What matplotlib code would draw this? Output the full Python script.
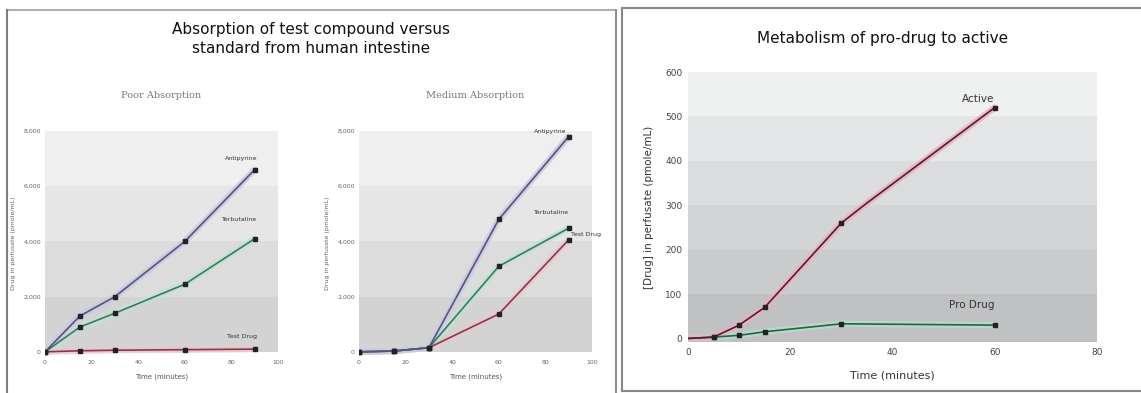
import matplotlib
matplotlib.use("Agg")
import matplotlib.pyplot as plt
from matplotlib.lines import Line2D

# absorption data (time in minutes)
abs_time = [0, 15, 30, 60, 90]
poor_antipyrine = [0, 1300, 2000, 4000, 6600]
poor_terbutaline = [0, 900, 1400, 2450, 4100]
poor_testdrug = [0, 40, 60, 80, 100]

med_time = [0, 15, 30, 60, 90]
med_antipyrine = [0, 30, 150, 4800, 7800]
med_terbutaline = [0, 30, 150, 3100, 4480]
med_testdrug = [0, 30, 150, 1370, 4060]

abs_xticks = [0, 20, 40, 60, 80, 100]
abs_yticks = [0, 2000, 4000, 6000, 8000]
abs_ylabels = ['0', '2,000', '4,000', '6,000', '8,000']

# metabolism data
met_time = [0, 5, 10, 15, 30, 35, 60]
active = [0, 3, 30, 70, 260, 305, 520]
active_marks = [1, 2, 3, 4, 6]
pro_time = [0, 5, 10, 15, 30, 60]
pro_drug = [0, 3, 7, 15, 33, 30]

met_xticks = [0, 20, 40, 60, 80]
met_yticks = [0, 100, 200, 300, 400, 500, 600]

W, H = 1141, 393
fig = plt.figure(figsize=(W / 100, H / 100), dpi=100)
fig.patch.set_facecolor('white')


def px_axes(x0, y0, x1, y1):
    # pixel box (top-left origin) -> figure axes
    return fig.add_axes([x0 / W, 1 - y1 / H, (x1 - x0) / W, (y1 - y0) / H])


def fline(x0, y0, x1, y1, c, lw):
    fig.add_artist(Line2D([x0 / W, x1 / W], [1 - y0 / H, 1 - y1 / H],
                          transform=fig.transFigure, color=c, lw=lw))


# panel borders
fline(7, 10, 616, 10, '#b0b0b0', 1.5)
fline(7, 10, 7, 393, '#808080', 1.5)
fline(616, 10, 616, 393, '#909090', 1.5)
fline(622, 8, 1141, 8, '#888888', 1.5)
fline(622, 8, 622, 391, '#888888', 1.5)
fline(622, 391, 1141, 391, '#888888', 1.5)

fig.text(311 / W, 1 - 39 / H, 'Absorption of test compound versus\nstandard from human intestine',
         ha='center', va='center', fontsize=11, linespacing=1.35, color='#111111')
fig.text(883 / W, 1 - 38 / H, 'Metabolism of pro-drug to active',
         ha='center', va='center', fontsize=11, color='#111111')


def glow(ax, x, y, dark, light, ms=2.2, marks=None):
    ax.plot(x, y, color=light, lw=4.5, alpha=0.85, solid_capstyle='round', zorder=3)
    ax.plot(x, y, color=dark, lw=1.2, zorder=4, marker='s', ms=ms,
            markevery=marks, mfc='#222222', mec='#222222')


def absorption(ax, title, ant, ter, tst, labels):
    bands = ['#d3d3d3', '#dcdcdc', '#e6e6e6', '#efefef']
    for i, c in enumerate(bands):
        ax.axhspan(abs_yticks[i], abs_yticks[i + 1], color=c, lw=0, zorder=0)
    glow(ax, abs_time, tst, '#8a3848', '#e8c8d0')
    glow(ax, abs_time, ter, '#3a7a60', '#c0e4d2')
    glow(ax, abs_time, ant, '#54547e', '#cacae2')
    ax.set_xlim(0, 100)
    ax.set_ylim(-150, 8000)
    ax.set_xticks(abs_xticks)
    ax.set_yticks(abs_yticks)
    ax.set_yticklabels(abs_ylabels)
    ax.tick_params(length=0, labelsize=4.5, labelcolor='#666666', pad=3)
    for s in ax.spines.values():
        s.set_visible(False)
    ax.set_xlabel('Time (minutes)', fontsize=5, color='#555555', labelpad=6)
    ax.set_ylabel('Drug in perfusate (pmole/mL)', fontsize=4.5, color='#666666', labelpad=5)
    ax.set_title(title, fontsize=7, color='#777777', family='serif', pad=24)
    for (txt, x, y, ha) in labels:
        ax.text(x, y, txt, fontsize=4.5, color='#333333', ha=ha, va='center')


ax1 = px_axes(45, 131, 278, 356)
absorption(ax1, 'Poor Absorption', poor_antipyrine, poor_terbutaline, poor_testdrug,
           [('Antipyrine', 91, 7000, 'right'), ('Terbutaline', 91, 4800, 'right'),
            ('Test Drug', 91, 550, 'right')])

ax2 = px_axes(359, 131, 592, 356)
absorption(ax2, 'Medium Absorption', med_antipyrine, med_terbutaline, med_testdrug,
           [('Antipyrine', 89, 8000, 'right'), ('Terbutaline', 90, 5050, 'right'),
            ('Test Drug', 91, 4250, 'left')])

# metabolism chart
ax3 = px_axes(688, 72, 1097, 342)
mbands = ['#c0c1c2', '#c9cbcc', '#d2d4d5', '#dadcdd', '#e4e5e6', '#eff0f0']
for i, c in enumerate(mbands):
    ax3.axhspan(met_yticks[i] if i else -8, met_yticks[i + 1], color=c, lw=0, zorder=0)
glow(ax3, pro_time, pro_drug, '#2a6048', '#b4e0c8', ms=3, marks=[1, 2, 3, 4, 5])
glow(ax3, met_time, active, '#502030', '#eeb0c0', ms=3, marks=active_marks)
ax3.text(60, 540, 'Active', fontsize=7.5, color='#333333', ha='right', va='center')
ax3.text(60, 75, 'Pro Drug', fontsize=7.5, color='#333333', ha='right', va='center')
ax3.set_xlim(0, 80)
ax3.set_ylim(-8, 600)
ax3.set_xticks(met_xticks)
ax3.set_yticks(met_yticks)
ax3.tick_params(length=0, labelsize=6.5, labelcolor='#444444', pad=4)
for s in ax3.spines.values():
    s.set_visible(False)
ax3.set_xlabel('Time (minutes)', fontsize=8, color='#333333', labelpad=10)
ax3.set_ylabel('[Drug] in perfusate (pmole/mL)', fontsize=7.5, color='#333333', labelpad=8)

fig.savefig('out.png', dpi=100)
